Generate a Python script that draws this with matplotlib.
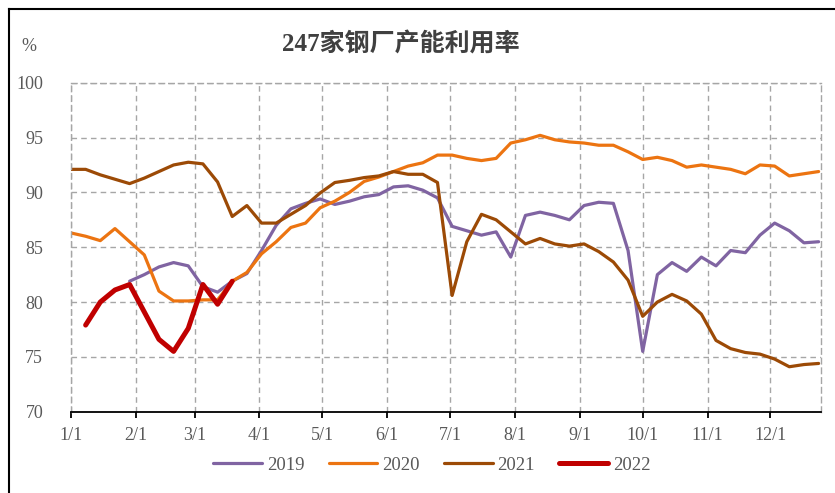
import numpy as np
import pandas as pd
import matplotlib
matplotlib.use('Agg')
import matplotlib.pyplot as plt
import matplotlib.dates as mdates
from matplotlib.lines import Line2D

# weekly readings, plotted on a common calendar (2021)
start_2019 = '2021-01-29'
start_2020 = '2021-01-01'
start_2021 = '2021-01-01'
start_2022 = '2021-01-08'

y2019 = [81.9, 82.5, 83.2, 83.6, 83.3, 81.4, 80.9, 81.9, 82.6, 84.7,
         87.0, 88.5, 89.0, 89.4, 88.9, 89.2, 89.6, 89.8, 90.5, 90.6,
         90.2, 89.5, 86.9, 86.5, 86.1, 86.4, 84.1, 87.9, 88.2, 87.9,
         87.5, 88.8, 89.1, 89.0, 84.7, 75.5, 82.5, 83.6, 82.8, 84.1,
         83.3, 84.7, 84.5, 86.1, 87.2, 86.5, 85.4, 85.5]
y2020 = [86.3, 86.0, 85.6, 86.7, 85.5, 84.3, 81.0, 80.1, 80.1, 80.2,
         80.2, 81.9, 82.7, 84.4, 85.5, 86.8, 87.2, 88.6, 89.2, 90.0,
         91.0, 91.4, 91.9, 92.4, 92.7, 93.4, 93.4, 93.1, 92.9, 93.1,
         94.5, 94.8, 95.2, 94.8, 94.6, 94.5, 94.3, 94.3, 93.7, 93.0,
         93.2, 92.9, 92.3, 92.5, 92.3, 92.1, 91.7, 92.5, 92.4, 91.5,
         91.7, 91.9]
y2021 = [92.1, 92.1, 91.6, 91.2, 90.8, 91.3, 91.9, 92.5, 92.75, 92.6,
         90.95, 87.8, 88.8, 87.2, 87.2, 88.0, 88.8, 89.95, 90.9, 91.1,
         91.35, 91.5, 91.9, 91.65, 91.65, 90.9, 80.6, 85.5, 88.0, 87.5,
         86.4, 85.3, 85.8, 85.3, 85.1, 85.3, 84.6, 83.65, 82.0, 78.7,
         80.0, 80.7, 80.1, 78.9, 76.5, 75.75, 75.4, 75.25, 74.8, 74.1,
         74.3, 74.4]
y2022 = [77.9, 80.0, 81.1, 81.6, 79.1, 76.6, 75.5, 77.6, 81.6, 79.8, 81.9]

series = [
    ('2019', start_2019, y2019, '#8064A2', 2.3),
    ('2020', start_2020, y2020, '#EC7411', 2.3),
    ('2021', start_2021, y2021, '#9C4A06', 2.3),
    ('2022', start_2022, y2022, '#C00000', 3.6),
]

yticks = [70, 75, 80, 85, 90, 95, 100]
month_ticks = pd.date_range('2021-01-01', '2021-12-01', freq='MS')

grey = '#595959'
serif = ['Liberation Serif', 'DejaVu Serif']

fig = plt.figure(figsize=(8.35, 4.93), dpi=100)
ax = fig.add_axes([0.085, 0.1649, 0.8979, 0.6673])

for name, start, vals, col, lw in series:
    dates = pd.date_range(start, periods=len(vals), freq='7D')
    ax.plot(dates, vals, color=col, lw=lw, label=name, solid_capstyle='round')

x0 = pd.Timestamp('2021-01-01')
ax.set_xlim(x0, x0 + pd.Timedelta(days=358))
ax.set_ylim(70, 100)
ax.set_yticks(yticks)
ax.set_xticks(month_ticks)
ax.xaxis.set_major_formatter(mdates.DateFormatter('%-m/%-d'))

ax.grid(True, color='#A6A6A6', ls=(0, (4, 3)), lw=1.0)
ax.set_axisbelow(True)
for s in ['left', 'right', 'top']:
    ax.spines[s].set_color('#A6A6A6')
    ax.spines[s].set_linestyle((0, (4, 3)))
    ax.spines[s].set_linewidth(1.0)
ax.spines['bottom'].set_color('black')
ax.spines['bottom'].set_linewidth(1.3)

ax.tick_params(axis='x', direction='out', length=4, width=1.3, color='black',
               pad=7, labelcolor=grey, labelsize=13)
ax.tick_params(axis='y', length=0, pad=20, labelcolor=grey, labelsize=13)
for lab in ax.get_xticklabels() + ax.get_yticklabels():
    lab.set_family(serif)

fig.text(0.48, 0.909, '247家钢厂产能利用率', ha='center', va='center',
         fontsize=18, fontweight='bold', color='#404040',
         family=['Liberation Serif', 'Noto Sans CJK SC'])
fig.text(0.035, 0.905, '%', ha='center', va='center', fontsize=13,
         color=grey, family=serif)

leg = fig.legend(loc='center', bbox_to_anchor=(0.517, 0.0568), ncol=4,
                 frameon=False, handlelength=2.6, handletextpad=0.25,
                 columnspacing=1.3, prop={'family': serif, 'size': 13.5})
for t in leg.get_texts():
    t.set_color(grey)

# outer frame (left and top edges visible)
fig.add_artist(Line2D([0.0102, 0.0102], [0, 0.981], color='black', lw=1.5,
                      transform=fig.transFigure))
fig.add_artist(Line2D([0.0102, 1], [0.981, 0.981], color='black', lw=1.5,
                      transform=fig.transFigure))

fig.savefig('out.png', dpi=100)
